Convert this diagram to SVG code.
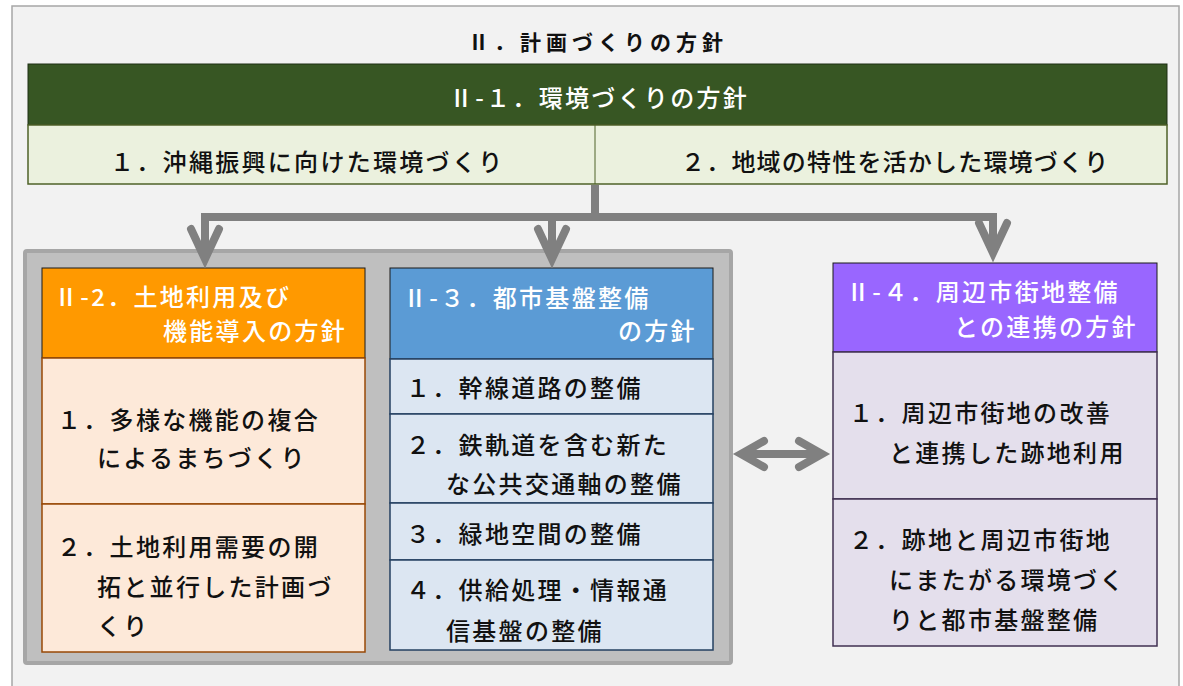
<svg xmlns="http://www.w3.org/2000/svg" width="1183" height="686" viewBox="0 0 1183 686">
<style>
text{font-family:"Noto Sans CJK JP","Noto Sans",sans-serif;font-size:24px;font-weight:500;letter-spacing:2.3px;fill:#111}
.w{fill:#fff}
.title{font-size:21px;font-weight:bold;letter-spacing:5px}
.conn{fill:none;stroke:#808080;stroke-width:8}
.head{fill:none;stroke:#808080;stroke-width:8;stroke-linecap:round;stroke-linejoin:miter;stroke-miterlimit:10}
</style>
<rect x="12" y="6" width="1167" height="690" fill="#f2f2f2" stroke="#a6a6a6" stroke-width="1.5"/>
<text class="title" x="468" y="50">Ⅱ．計画づくりの方針</text>

<g id="env">
<rect x="28" y="64" width="1139" height="61" fill="#375623" stroke="#1e2e14" stroke-width="1"/>
<text class="w" x="599" y="107" text-anchor="middle">Ⅱ-１．環境づくりの方針</text>
<rect x="28" y="125" width="1139" height="59" fill="#ebf1de" stroke="#4f6228" stroke-width="1.5"/>
<line x1="595" y1="125" x2="595" y2="184" stroke="#4f6228" stroke-width="1"/>
<text x="110" y="171">１．沖縄振興に向けた環境づくり</text>
<text x="681" y="171" style="letter-spacing:1.2px">２．地域の特性を活かした環境づくり</text>
</g>

<g id="container">
<rect x="25" y="251" width="706" height="412" fill="#bfbfbf" stroke="#a6a6a6" stroke-width="4" rx="2"/>
</g>

<g id="n2">
<rect x="42" y="268" width="323" height="90" fill="#ff9900" stroke="#1a1a1a" stroke-width="1"/>
<text class="w" x="54" y="306">Ⅱ-2．土地利用及び</text>
<text class="w" x="163" y="340">機能導入の方針</text>
<rect x="42" y="358" width="323" height="146" fill="#fde9d9" stroke="#984806" stroke-width="1.5"/>
<text x="57" y="429">１．多様な機能の複合</text>
<text x="97" y="467">によるまちづくり</text>
<rect x="42" y="504" width="323" height="148" fill="#fde9d9" stroke="#984806" stroke-width="1.5"/>
<text x="57" y="556">２．土地利用需要の開</text>
<text x="97" y="596">拓と並行した計画づ</text>
<text x="97" y="635">くり</text>
</g>

<g id="n3">
<rect x="390" y="268" width="323" height="91" fill="#5b9bd5" stroke="#1a1a1a" stroke-width="1"/>
<text class="w" x="403" y="307">Ⅱ-３．都市基盤整備</text>
<text class="w" x="618" y="340">の方針</text>
<rect x="390" y="359" width="323" height="55" fill="#dce6f2" stroke="#254061" stroke-width="1.5"/>
<text x="406" y="397">１．幹線道路の整備</text>
<rect x="390" y="414" width="323" height="89" fill="#dce6f2" stroke="#254061" stroke-width="1.5"/>
<text x="406" y="454">２．鉄軌道を含む新た</text>
<text x="446" y="493">な公共交通軸の整備</text>
<rect x="390" y="503" width="323" height="57" fill="#dce6f2" stroke="#254061" stroke-width="1.5"/>
<text x="406" y="543">３．緑地空間の整備</text>
<rect x="390" y="560" width="323" height="90" fill="#dce6f2" stroke="#254061" stroke-width="1.5"/>
<text x="406" y="599">４．供給処理・情報通</text>
<text x="446" y="640">信基盤の整備</text>
</g>

<g id="n4">
<rect x="833" y="263" width="324" height="89" fill="#9966ff" stroke="#1a1a1a" stroke-width="1"/>
<text class="w" x="846" y="301">Ⅱ-４．周辺市街地整備</text>
<text class="w" x="954" y="336">との連携の方針</text>
<rect x="833" y="352" width="324" height="147" fill="#e4dfec" stroke="#403152" stroke-width="1.5"/>
<text x="849" y="422">１．周辺市街地の改善</text>
<text x="889" y="462">と連携した跡地利用</text>
<rect x="833" y="499" width="324" height="147" fill="#e4dfec" stroke="#403152" stroke-width="1.5"/>
<text x="849" y="549">２．跡地と周辺市街地</text>
<text x="889" y="589">にまたがる環境づく</text>
<text x="889" y="629">りと都市基盤整備</text>
</g>

<g id="connectors">
<path class="conn" d="M595 185V217M201 217H997M205 217V258M552 217V258M993 217V252"/>
<path class="head" d="M191 229L205 259L219 229"/>
<path class="head" d="M538 229L552 259L566 229"/>
<path class="head" d="M979 223L993 253L1007 223"/>
<path class="conn" d="M742 454H821"/>
<path class="head" d="M764 441L741 454L764 467"/>
<path class="head" d="M799 441L822 454L799 467"/>
</g>
</svg>
